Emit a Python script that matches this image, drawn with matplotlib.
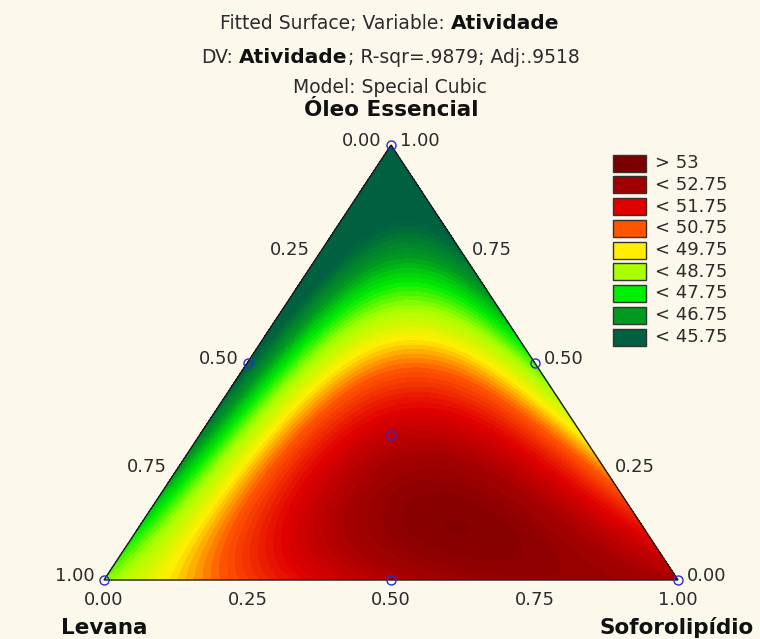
import numpy as np
import matplotlib
matplotlib.use('Agg')
import matplotlib.pyplot as plt
import matplotlib.tri as mtri
from matplotlib.colors import LinearSegmentedColormap, Normalize
from matplotlib.patches import Polygon, Rectangle

plt.rcParams['font.family'] = ['DejaVu Sans']

# ----------------------------------------------------------------------
# mixture design (Levana, Soforolipidio, Oleo essencial) and fitted response
# ----------------------------------------------------------------------
design_levana = [1.0, 0.0, 0.0, 0.5, 0.5, 0.0, 1 / 3]
design_sofo = [0.0, 1.0, 0.0, 0.5, 0.0, 0.5, 1 / 3]
design_oleo = [0.0, 0.0, 1.0, 0.0, 0.5, 0.5, 1 / 3]
design_atividade = [48.0, 52.5, 44.2, 52.3, 45.4, 47.7, 52.0]

legend_labels = ['> 53', '< 52.75', '< 51.75', '< 50.75', '< 49.75',
                 '< 48.75', '< 47.75', '< 46.75', '< 45.75']
legend_colors = ['#7b0000', '#a00000', '#e00000', '#ff5500', '#ffee00',
                 '#aaff00', '#00ee00', '#009a20', '#006040']
# response value at which each legend colour is reached in the gradient
color_stops = [53.5, 52.7, 51.5, 50.3, 49.3, 48.3, 47.4, 46.6, 45.6]

axis_ticks = [0.0, 0.25, 0.5, 0.75, 1.0]

BG = '#fdf8ec'
VL = np.array([104.0, 580.0])   # Levana corner (pixels)
VS = np.array([678.0, 580.0])   # Soforolipidio corner
VO = np.array([391.0, 145.0])   # Oleo corner


def to_px(l, s, o):
    l, s, o = np.asarray(l), np.asarray(s), np.asarray(o)
    x = l * VL[0] + s * VS[0] + o * VO[0]
    y = l * VL[1] + s * VS[1] + o * VO[1]
    return x, y


def special_cubic_terms(l, s, o):
    l, s, o = np.asarray(l), np.asarray(s), np.asarray(o)
    return np.column_stack([l, s, o, l * s, l * o, s * o, l * s * o])


# special cubic model: 7 terms through the 7 design points
X = special_cubic_terms(design_levana, design_sofo, design_oleo)
coef = np.linalg.solve(X, np.array(design_atividade))

# evaluation grid over the simplex
n = 160
gl, gs = [], []
for i in range(n + 1):
    for j in range(n + 1 - i):
        gl.append(i / n)
        gs.append(j / n)
gl = np.array(gl)
gs = np.array(gs)
go = 1 - gl - gs
z = special_cubic_terms(gl, gs, go) @ coef
gx, gy = to_px(gl, gs, go)
tri = mtri.Triangulation(gx, gy)

stops = color_stops[::-1]
cols = legend_colors[::-1]
vmin, vmax = stops[0], stops[-1]
cmap = LinearSegmentedColormap.from_list(
    'atividade', [((m - vmin) / (vmax - vmin), c) for m, c in zip(stops, cols)])
cmap.set_under(cols[0])
cmap.set_over(cols[-1])

fig = plt.figure(figsize=(7.6, 6.39), dpi=100, facecolor=BG)
ax = fig.add_axes([0, 0, 1, 1])
ax.set_xlim(0, 760)
ax.set_ylim(639, 0)
ax.axis('off')
ax.set_facecolor(BG)

levels = np.arange(42.0, 55.6, 0.15)
ax.tricontourf(tri, z, levels=levels, cmap=cmap,
               norm=Normalize(vmin=vmin, vmax=vmax), extend='both')
ax.add_patch(Polygon([VL, VS, VO], closed=True, fill=False,
                     edgecolor='#1a1a1a', lw=1.0, zorder=3))

# design points
px, py = to_px(design_levana, design_sofo, design_oleo)
ax.plot(px, py, 'o', ms=6.5, mfc='none', mec='#2a2ad8', mew=1.0, zorder=4,
        clip_on=False)

tick_kw = dict(fontsize=13, color='#2b2b2b', ha='center', va='center')
for t in axis_ticks:
    # left side: Levana fraction
    x, y = to_px(t, 0, 1 - t)
    ax.text(x - 29, y - 4, f'{t:.2f}', **tick_kw)
    # right side: Oleo fraction
    x, y = to_px(0, 1 - t, t)
    ax.text(x + 29, y - 4, f'{t:.2f}', **tick_kw)
    # bottom: Soforolipidio fraction
    x, y = to_px(1 - t, t, 0)
    ax.text(x, y + 20, f'{t:.2f}', **tick_kw)

name_kw = dict(fontsize=15.5, fontweight='bold', color='#111111',
               ha='center', va='baseline')
ax.text(VO[0], 116, 'Óleo Essencial', **name_kw)
ax.text(VL[0], 634, 'Levana', **name_kw)
ax.text(VS[0] - 1, 634, 'Soforolipídio', **name_kw)

# legend
for i, (lab, col) in enumerate(zip(legend_labels, legend_colors)):
    yc = 163 + i * 21.75
    ax.add_patch(Rectangle((613, yc - 8.5), 33, 17, facecolor=col,
                           edgecolor='#333333', lw=1.0))
    ax.text(655, yc, lab, fontsize=13, color='#2b2b2b', va='center', ha='left')

# title lines with mixed weights
renderer = fig.canvas.get_renderer()


def mixed_line(y, parts, xc=390):
    arts = []
    total = 0.0
    for text, size, weight, gap in parts:
        if gap:
            total += 0.318 * size * 100 / 72
        t = ax.text(0, y, text, fontsize=size, fontweight=weight,
                    color='#111111' if weight == 'bold' else '#2b2b2b',
                    ha='left', va='baseline')
        w = t.get_window_extent(renderer).width
        arts.append((t, total))
        total += w
    x0 = xc - total / 2
    for t, off in arts:
        t.set_x(x0 + off)


mixed_line(29, [('Fitted Surface; Variable:', 13.5, 'normal', False),
                ('Atividade', 14.5, 'bold', True)])
mixed_line(63, [('DV:', 13.5, 'normal', False),
                ('Atividade', 14.5, 'bold', True),
                ('; R-sqr=.9879; Adj:.9518', 13.5, 'normal', False)])
mixed_line(93, [('Model: Special Cubic', 13.5, 'normal', False)])

fig.savefig('out.png', dpi=100, facecolor=BG)
